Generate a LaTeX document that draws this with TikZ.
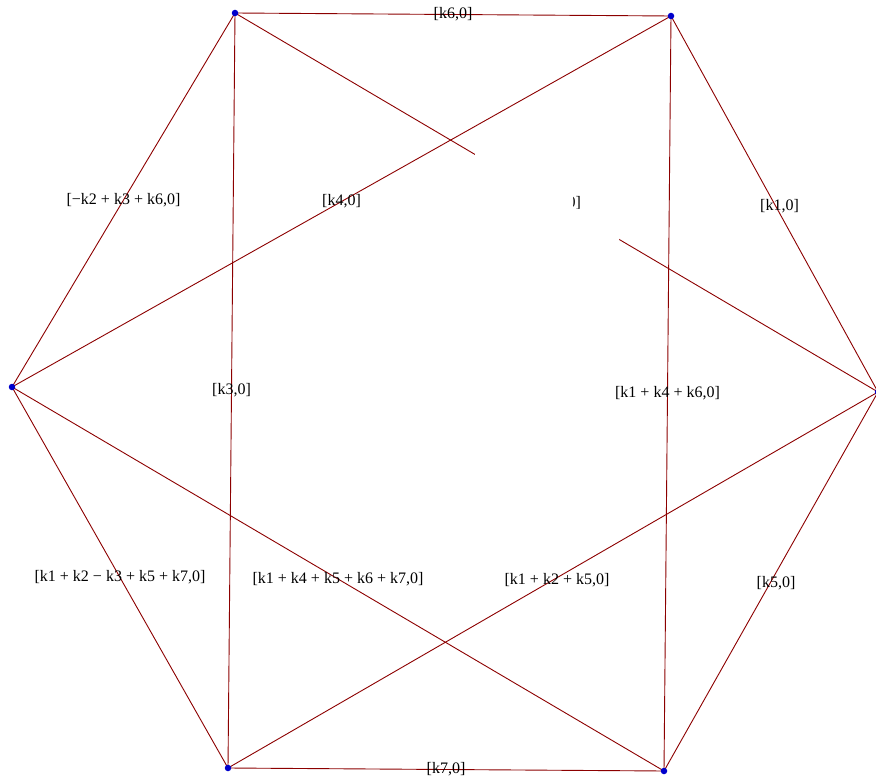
\documentclass[tikz,border=0pt]{standalone}
\usepackage{fontspec}
\setmainfont{Liberation Serif}
\tikzset{
  edge/.style={red!55!black,line width=0.9pt},
  lbl/.style={font=\fontsize{16}{18}\selectfont,text=black,inner sep=0pt},
  vtx/.style={circle,fill=blue!80!black,inner sep=0pt,minimum size=6.5pt},
}
\begin{document}
\begin{tikzpicture}[x=1pt,y=-1pt]
\useasboundingbox (0,0) rectangle (876,778);
\clip (0,0) rectangle (876,778);
% hexagon corners
\coordinate (p1) at (235,13);
\coordinate (p2) at (671,16);
\coordinate (p3) at (878,392);
\coordinate (p4) at (664,771);
\coordinate (p5) at (228,768);
\coordinate (p6) at (12,387);
% outer edges
\draw[edge] (p1) -- (p2) node[lbl,midway] {[k6,0]};
\draw[edge] (p2) -- (p3) node[lbl,midway,xshift=5pt,yshift=-2pt] {[k1,0]};
\draw[edge] (p3) -- (p4) node[lbl,midway,xshift=5pt,yshift=-2pt] {[k5,0]};
\draw[edge] (p4) -- (p5) node[lbl,midway] {[k7,0]};
\draw[edge] (p5) -- (p6) node[lbl,midway] {[k1 + k2 − k3 + k5 + k7,0]};
\draw[edge] (p6) -- (p1) node[lbl,midway] {[−k2 + k3 + k6,0]};
% inner edges
\draw[edge] (p1) -- (p5) node[lbl,midway] {[k3,0]};
\draw[edge] (p2) -- (p4) node[lbl,midway] {[k1 + k4 + k6,0]};
\draw[edge] (p6) -- (p2) node[lbl,midway] {[k4,0]};
\draw[edge] (p6) -- (p4) node[lbl,midway] {[k1 + k4 + k5 + k6 + k7,0]};
\draw[edge] (p5) -- (p3) node[lbl,midway,xshift=4pt] {[k1 + k2 + k5,0]};
\draw[edge] (p1) -- (p3) node[lbl,midway,xshift=5pt,yshift=-1pt] {[k2,0]};
% blank patch over the middle
\fill[white] (475,138) -- (573,138) -- (573,209) -- (619,209)
  -- (619,252) -- (475,252) -- cycle;
% corner dots
\foreach \p in {p1,p2,p3,p4,p5,p6}
  \node[vtx] at (\p) {};
\end{tikzpicture}
\end{document}
